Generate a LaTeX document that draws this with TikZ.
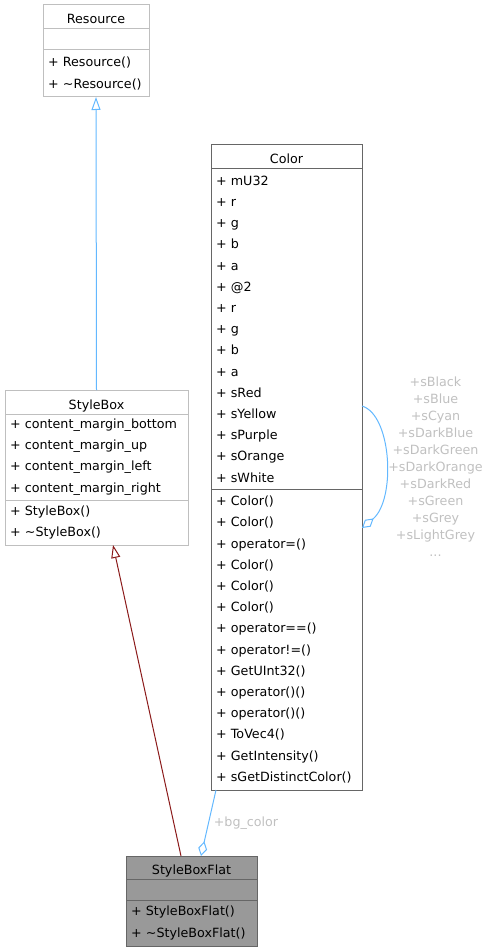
\documentclass[tikz,border=0pt]{standalone}
\usepackage{fontspec}
\setmainfont{DejaVu Sans}
\usetikzlibrary{positioning,arrows.meta}
\definecolor{boxGrey}{HTML}{BFBFBF}
\definecolor{boxDark}{HTML}{666666}
\definecolor{boxFill}{HTML}{999999}
\definecolor{edgeBlue}{HTML}{63B8FF}
\definecolor{edgeRed}{HTML}{8B1A1A}
\definecolor{labelGrey}{HTML}{C0C0C0}
\newcommand{\umlFont}{\fontsize{12.7}{21.2}\selectfont}
\newcommand{\tagFont}{\fontsize{12.7}{17}\selectfont}

\begin{document}
\begin{tikzpicture}[x=1pt,y=-1pt,
    umlBox/.style={draw=boxGrey,line width=1pt,outer sep=0pt,inner xsep=5pt,inner ysep=0pt,font=\umlFont},
    umlHead/.style={umlBox,text height=14pt,text depth=0pt},
    umlBody/.style={umlBox,align=left},
    umlInherit/.style={line width=1pt,-{Triangle[open,length=13pt,width=9pt]}},
    umlAggr/.style={line width=1pt,edgeBlue,-{Diamond[open,length=15pt,width=9pt]}},
    edgeTag/.style={text=labelGrey,font=\tagFont,align=center,inner sep=0pt},
]
\useasboundingbox (0,0) rectangle (488,952);

% Resource
\node[umlHead,minimum width=106pt,minimum height=24pt,anchor=north west] (resource) at (43,5) {Resource};
\node[umlBody,text width=96pt,minimum height=21pt,below=0pt of resource] (resource-attr) {};
\node[umlBody,text width=96pt,minimum height=47pt,below=0pt of resource-attr] (resource-ops) {+ Resource()\\+ \textasciitilde Resource()};

% StyleBox
\node[umlHead,minimum width=183pt,minimum height=24pt,anchor=north west] (stylebox) at (5,390) {StyleBox};
\node[umlBody,text width=173pt,minimum height=86pt,below=0pt of stylebox] (stylebox-attr) {+ content\_margin\_bottom\\+ content\_margin\_up\\+ content\_margin\_left\\+ content\_margin\_right};
\node[umlBody,text width=173pt,minimum height=45pt,below=0pt of stylebox-attr] (stylebox-ops) {+ StyleBox()\\+ \textasciitilde StyleBox()};

% Color
\node[umlHead,draw=boxDark,minimum width=151pt,minimum height=24pt,anchor=north west] (color) at (211,145) {Color};
\node[umlBody,draw=boxDark,text width=141pt,minimum height=320pt,below=0pt of color] (color-attr) {+ mU32\\+ r\\+ g\\+ b\\+ a\\+ @2\\+ r\\+ g\\+ b\\+ a\\+ sRed\\+ sYellow\\+ sPurple\\+ sOrange\\+ sWhite};
\node[umlBody,draw=boxDark,text width=141pt,minimum height=301pt,below=0pt of color-attr] (color-ops) {+ Color()\\+ Color()\\+ operator=()\\+ Color()\\+ Color()\\+ Color()\\+ operator==()\\+ operator!=()\\+ GetUInt32()\\+ operator()()\\+ operator()()\\+ ToVec4()\\+ GetIntensity()\\+ sGetDistinctColor()};

% StyleBoxFlat
\node[umlHead,draw=boxDark,fill=boxFill,minimum width=131pt,minimum height=23pt,anchor=north west] (flat) at (126,856) {StyleBoxFlat};
\node[umlBody,draw=boxDark,fill=boxFill,text width=121pt,minimum height=21pt,below=0pt of flat] (flat-attr) {};
\node[umlBody,draw=boxDark,fill=boxFill,text width=121pt,minimum height=46pt,below=0pt of flat-attr] (flat-ops) {+ StyleBoxFlat()\\+ \textasciitilde StyleBoxFlat()};

% relations
\draw[umlInherit,edgeBlue] (stylebox.north) -- (resource-ops.south);
\draw[umlInherit,edgeRed] ([xshift=-10.5pt]flat.north) -- ([xshift=16.5pt]stylebox-ops.south);
\draw[umlAggr] ([xshift=-70.5pt]color-ops.south) -- ([xshift=9.5pt]flat.north);
\draw[umlAggr] ([yshift=-237pt]color-attr.north east) .. controls +(30,9) and +(34,-28) .. ([yshift=-39pt]color-ops.north east);

\node[edgeTag] (bg-tag) at (246,823) {+bg\_color};
\node[edgeTag] (const-tag) at (435.5,467) {+sBlack\\+sBlue\\+sCyan\\+sDarkBlue\\+sDarkGreen\\+sDarkOrange\\+sDarkRed\\+sGreen\\+sGrey\\+sLightGrey\\...};
\end{tikzpicture}
\end{document}
